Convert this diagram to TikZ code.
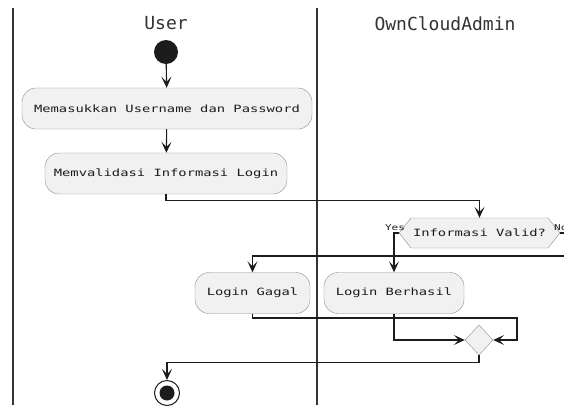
\documentclass[tikz,border=0pt]{standalone}
\usepackage{fontspec}
\newfontfamily\actfont[FakeStretch=1.38]{DejaVu Sans Mono}
\newfontfamily\lanefont{DejaVu Sans Mono}
\usepackage{tikz}
\usetikzlibrary{shapes.geometric, shapes.symbols, arrows.meta, positioning}
\definecolor{ActFill}{HTML}{F1F1F1}
\definecolor{ActLine}{HTML}{8E8E8E}
\definecolor{FlowLine}{HTML}{1C1C1C}
\definecolor{LaneLine}{HTML}{333333}
\tikzset{
  actbox/.style={rectangle, rounded corners=14pt, draw=ActLine, fill=ActFill, minimum height=41pt, inner xsep=6pt, font=\actfont\fontsize{10}{12}\selectfont, text=FlowLine, align=center},
  decision/.style={signal, signal to=east and west, signal pointer angle=103, draw=ActLine, fill=ActFill, minimum width=147pt, minimum height=30pt, inner xsep=2pt, font=\actfont\fontsize{10}{12}\selectfont, text=FlowLine},
  mergenode/.style={diamond, draw=ActLine, fill=ActFill, minimum width=28pt, minimum height=30pt, inner sep=0pt},
  startnode/.style={circle, fill=FlowLine, minimum size=24pt, inner sep=0pt},
  stopnode/.style={circle, draw=FlowLine, line width=1pt, minimum size=25pt, inner sep=0pt, path picture={\fill[FlowLine] (path picture bounding box.center) circle (7.5pt);}},
  lanetitle/.style={font=\lanefont\fontsize{18}{20}\selectfont, text=LaneLine},
  guard/.style={font=\actfont\fontsize{8}{10}\selectfont, text=FlowLine, inner sep=0pt},
  flow/.style={draw=FlowLine, line width=1.1pt, -{Stealth[length=11pt, width=10pt, inset=5pt]}},
  lane/.style={draw=LaneLine, line width=1.5pt}
}
\begin{document}
\begin{tikzpicture}[x=1pt, y=-1pt]
  \useasboundingbox[fill=white] (0,0) rectangle (564,405);

  % swimlanes
  \draw[lane] (13,8) -- (13,405);
  \draw[lane] (317,8) -- (317,405);
  \node[lanetitle] (userlane) at (166,23) {User};
  \node[lanetitle] (adminlane) at (445,24) {OwnCloudAdmin};

  % activities
  \node[startnode] (start) at (166,52) {};
  \node[actbox, minimum width=290pt] (enter) at (167,108.5) {Memasukkan Username dan Password};
  \node[actbox, minimum width=242pt] (validate) at (166,173.5) {Memvalidasi Informasi Login};
  \node[decision] (valid) at (479.5,233) {Informasi Valid?};
  \node[guard] (yes) at (395,228) {Yes};
  \node[guard, anchor=west] (no) at (554,228) {No};
  \node[actbox, minimum width=140pt] (success) at (394,293) {Login Berhasil};
  \node[actbox, minimum width=115pt] (fail) at (252.5,293) {Login Gagal};
  \node[mergenode] (merge) at (479,340) {};
  \node[stopnode] (stop) at (167,393) {};

  \coordinate (nojog) at (575,256);
  \coordinate (mergejog) at (517,318);

  % flows
  \draw[flow] (start) -- (enter);
  \draw[flow] (enter) -- (validate);
  \draw[flow] (validate.south) -- ++(0,6.5) -| (valid.north);
  \draw[flow] (valid.west) -| (success.north);
  \draw[flow] (valid.east) -| (nojog) -| (fail.north);
  \draw[flow] (success.south) |- (merge.west);
  \draw[flow] (fail.south) |- (mergejog) |- (merge.east);
  \draw[flow] (merge.south) -- ++(0,7) -| (stop.north);
\end{tikzpicture}
\end{document}
